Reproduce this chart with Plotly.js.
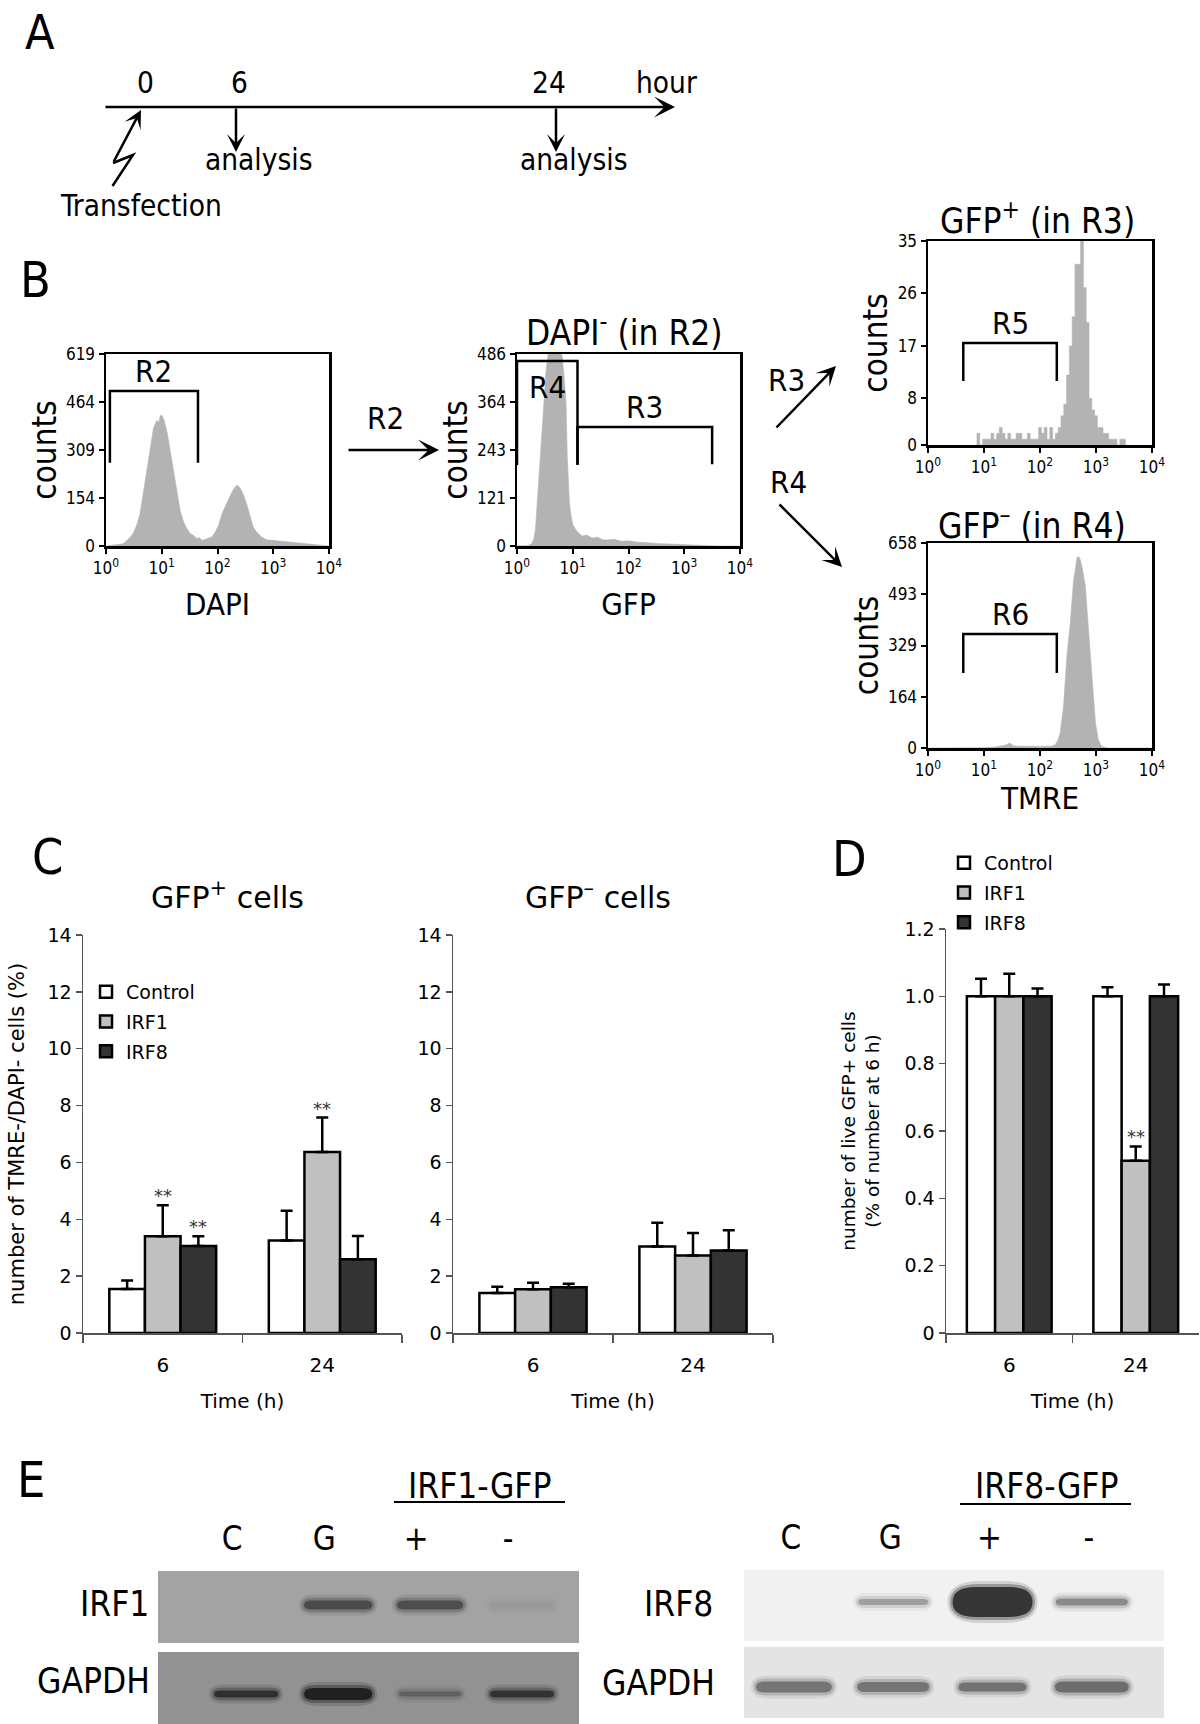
<!DOCTYPE html>
<html><head><meta charset="utf-8">
<script src="https://cdn.plot.ly/plotly-3.0.1.min.js"></script>
<style>html,body{margin:0;padding:0;background:#fff}#fig{width:1200px;height:1724px}</style>
</head><body><div id="fig"></div>
<script>
const W = 1200, H = 1724;
const px = x => x / W;
const py = y => 1 - y / H;
const FN = '"DejaVu Sans", Verdana, sans-serif';
const FC = '"DejaVu Sans Condensed", "DejaVu Sans", sans-serif';

// ---------- Panel B: flow histograms (log10 channel, counts) ----------
const dapiLog = [0,0.1,0.2,0.3,0.34,0.38,0.44,0.5,0.56,0.61,0.67,0.73,0.79,0.85,0.91,0.95,0.97,1.0,1.04,1.1,1.15,1.21,1.27,1.33,1.39,1.45,1.51,1.57,1.63,1.68,1.72,1.77,1.81,1.86,1.9,1.96,2.02,2.08,2.14,2.2,2.26,2.32,2.36,2.41,2.47,2.53,2.59,2.64,2.7,2.79,2.88,3.0,3.12,3.3,3.48,3.66,3.9,4.0];
const dapiCounts = [0,3,4,7,12,18,29,45,72,104,169,234,309,379,405,398,419,422,406,363,309,234,169,115,78,56,40,34,24,27,18,21,24,26,29,45,67,104,126,153,174,191,196,185,164,131,94,61,45,29,20,18,15,13,10,5,2,0];
const dapiYTicks = [0,154,309,464,619];

const gfpLog = [0,0.2,0.26,0.3,0.33,0.36,0.39,0.42,0.46,0.49,0.52,0.57,0.65,0.74,0.81,0.85,0.88,0.9,0.94,0.97,1.0,1.05,1.09,1.17,1.25,1.35,1.45,1.53,1.61,1.75,1.87,2.0,2.13,2.26,2.39,2.55,2.74,2.9,3.09,3.35,3.6,4.0];
const gfpCounts = [0,1,5,18,40,100,170,240,300,380,440,500,520,510,480,420,360,230,110,75,55,42,35,25,28,20,22,16,15,17,12,13,10,9,7,6,5,4,3,1,0,0];
const gfpYTicks = [0,121,243,364,486];

const tmrePosLog = [0.85,0.9,0.95,1.0,1.05,1.1,1.15,1.2,1.25,1.3,1.35,1.4,1.45,1.5,1.55,1.6,1.65,1.7,1.75,1.8,1.85,1.9,1.95,2.0,2.05,2.1,2.15,2.2,2.25,2.3,2.35,2.4,2.45,2.5,2.55,2.6,2.65,2.7,2.75,2.8,2.85,2.9,2.95,3.0,3.05,3.1,3.15,3.2,3.25,3.3,3.35,3.4,3.45,3.5,3.55];
const tmrePosCounts = [0,2,0,1,1,1,2,1,2,3,2,1,2,1,1,2,2,1,1,2,1,1,1,3,2,3,1,3,1,2,3,5,7,12,17,22,31,31,35,27,21,8,6,5,3,3,2,2,1,1,1,0,1,1,0];
const tmrePosYTicks = [0,8,17,26,35];

const tmreNegLog = [0,0.5,1.0,1.2,1.3,1.4,1.46,1.52,1.6,1.8,2.0,2.2,2.27,2.32,2.36,2.42,2.48,2.54,2.6,2.63,2.66,2.69,2.72,2.76,2.81,2.87,2.93,2.99,3.04,3.1,3.2,4.0];
const tmreNegCounts = [0,0,1,3,6,10,16,8,6,5,5,6,10,25,48,134,294,401,540,572,610,615,604,572,519,369,208,80,27,5,0,0];
const tmreNegYTicks = [0,164,329,493,658];

const histTickVals = [1,10,100,1000,10000];
const histTickText = ['10<sup>0</sup>','10<sup>1</sup>','10<sup>2</sup>','10<sup>3</sup>','10<sup>4</sup>'];

// gates
const gateNames = ['R2','R4','R3','R5','R6'];
const gateAxis = ['', '2', '2', '3', '4'];
const gateLoLog = [0.07, 0.0, 1.085, 0.63, 0.63];
const gateHiLog = [1.65, 1.085, 3.5, 2.30, 2.30];
const gateTop = [500, 468, 301, 17.5, 366];
const gateBottom = [268, 205, 207, 11.0, 241];
const gateLabelAbove = [true, false, true, true, true];

// ---------- Panel C / D ----------
const timeCats = ['6', '24'];
const groupNames = ['Control', 'IRF1', 'IRF8'];
const groupColors = ['#ffffff', '#c0c0c0', '#333333'];

const gfpPosControl = [1.55, 3.25];
const gfpPosControlErr = [0.30, 1.05];
const gfpPosIRF1 = [3.40, 6.37];
const gfpPosIRF1Err = [1.09, 1.21];
const gfpPosIRF8 = [3.06, 2.59];
const gfpPosIRF8Err = [0.34, 0.82];

const gfpNegControl = [1.41, 3.04];
const gfpNegControlErr = [0.22, 0.84];
const gfpNegIRF1 = [1.54, 2.73];
const gfpNegIRF1Err = [0.23, 0.79];
const gfpNegIRF8 = [1.61, 2.90];
const gfpNegIRF8Err = [0.12, 0.71];

const liveControl = [1.00, 1.00];
const liveControlErr = [0.052, 0.027];
const liveIRF1 = [1.00, 0.512];
const liveIRF1Err = [0.067, 0.042];
const liveIRF8 = [1.00, 1.00];
const liveIRF8Err = [0.023, 0.035];

const cYTicks = [0,2,4,6,8,10,12,14];
const dYTicks = [0,0.2,0.4,0.6,0.8,1.0,1.2];
const dYTickText = ['0','0.2','0.4','0.6','0.8','1.0','1.2'];

const sigGfpPosTime = ['6','6','24'];
const sigGfpPosGroup = ['IRF1','IRF8','IRF1'];
const sigLiveTime = ['24'];
const sigLiveGroup = ['IRF1'];

// ---------- Panel E: western blots (relative band signal per lane) ----------
const blotLanes = ['C','G','+','-'];
const irf1Signal = [0.00, 0.72, 0.68, 0.05];
const gapdhLeftSignal = [0.82, 1.00, 0.35, 0.78];
const irf8Signal = [0.00, 0.35, 1.00, 0.45];
const gapdhRightSignal = [0.62, 0.62, 0.64, 0.68];

// ================= build =================
const BAR_GAP = 0.33;
const traces = [];
const shapes = [];
const annotations = [];

function histTrace(logs, counts, ax, shape) {
  return {type:'scatter', mode:'lines', x: logs.map(v => Math.pow(10, v)), y: counts,
    xaxis:'x'+ax, yaxis:'y'+ax, fill:'tozeroy', fillcolor:'#b3b3b3',
    line:{color:'#b3b3b3', width:0.6, shape: shape || 'linear'}, showlegend:false, hoverinfo:'skip'};
}
traces.push(histTrace(dapiLog, dapiCounts, ''));
traces.push(histTrace(gfpLog, gfpCounts, '2'));
traces.push(histTrace(tmrePosLog, tmrePosCounts, '3', 'hvh'));
traces.push(histTrace(tmreNegLog, tmreNegCounts, '4'));

gateNames.forEach((g, i) => {
  const lo = Math.pow(10, gateLoLog[i]), hi = Math.pow(10, gateHiLog[i]);
  traces.push({type:'scatter', mode:'lines', x:[lo,lo,hi,hi], y:[gateBottom[i],gateTop[i],gateTop[i],gateBottom[i]],
    xaxis:'x'+gateAxis[i], yaxis:'y'+gateAxis[i], line:{color:'#000', width:2.5}, showlegend:false, hoverinfo:'skip'});
  annotations.push({text:g, xref:'x'+gateAxis[i], yref:'y'+gateAxis[i], x:(gateLoLog[i]+gateHiLog[i])/2, y:gateTop[i],
    showarrow:false, xanchor:'center', yanchor: gateLabelAbove[i] ? 'bottom' : 'top', yshift: gateLabelAbove[i] ? 0 : -6,
    font:{family:FC, size:31, color:'#000'}});
});

function barSet(means, errs, xa, ya, legendName, show) {
  return groupNames.map((g, i) => ({type:'bar', name:g, x:timeCats, y:means[i], xaxis:xa, yaxis:ya,
    marker:{color:groupColors[i], line:{color:'#000', width:2.5}},
    error_y:{type:'data', array:errs[i], arrayminus:[0,0], symmetric:false, color:'#000', thickness:2.5, width:6},
    showlegend:show, legend:legendName, legendgroup:legendName + g, hoverinfo:'skip'}));
}
const posMeans = [gfpPosControl, gfpPosIRF1, gfpPosIRF8], posErrs = [gfpPosControlErr, gfpPosIRF1Err, gfpPosIRF8Err];
const negMeans = [gfpNegControl, gfpNegIRF1, gfpNegIRF8], negErrs = [gfpNegControlErr, gfpNegIRF1Err, gfpNegIRF8Err];
const liveMeans = [liveControl, liveIRF1, liveIRF8], liveErrs = [liveControlErr, liveIRF1Err, liveIRF8Err];
traces.push(...barSet(posMeans, posErrs, 'x5', 'y5', 'legend', true));
traces.push(...barSet(negMeans, negErrs, 'x6', 'y6', 'legend', false));
traces.push(...barSet(liveMeans, liveErrs, 'x7', 'y7', 'legend2', true));

function sigMarks(times, groups, means, errs, xa, ya) {
  times.forEach((t, k) => {
    const ti = timeCats.indexOf(t), gi = groupNames.indexOf(groups[k]);
    const off = (gi - 1) * (1 - BAR_GAP) / 3;
    annotations.push({text:'**', xref:xa, yref:ya, x: ti + off, y: means[gi][ti] + errs[gi][ti],
      showarrow:false, xanchor:'center', yanchor:'bottom', yshift:-3, font:{family:FN, size:18, color:'#333'}});
  });
}
sigMarks(sigGfpPosTime, sigGfpPosGroup, posMeans, posErrs, 'x5', 'y5');
sigMarks(sigLiveTime, sigLiveGroup, liveMeans, liveErrs, 'x7', 'y7');

// blot helper traces (invisible) so blot axes exist
[['x8','y8'],['x9','y9']].forEach(([xa,ya]) => traces.push({type:'scatter', mode:'markers', x:[1,2,3,4], y:[1,1,1,1],
  xaxis:xa, yaxis:ya, marker:{opacity:0}, showlegend:false, hoverinfo:'skip'}));

function roundBand(xa, ya, cx, cy, hw, hh, rx, color) {
  const x0 = cx - hw, x1 = cx + hw, y0 = cy - hh, y1 = cy + hh;
  const path = `M${x0+rx},${y0} L${x1-rx},${y0} Q${x1},${y0} ${x1},${cy} Q${x1},${y1} ${x1-rx},${y1} L${x0+rx},${y1} Q${x0},${y1} ${x0},${cy} Q${x0},${y0} ${x0+rx},${y0} Z`;
  return {type:'path', xref:xa, yref:ya, path, fillcolor:color, line:{width:0}, layer:'above'};
}
const bandLayers = [{dx:5, dy:6, a:0.14}, {dx:2.5, dy:3, a:0.3}, {dx:0, dy:0, a:0.72}];
function bands(xa, ya, row, signal, hwPx, thickPx, lanePx, rowPx, rgb) {
  signal.forEach((a, i) => {
    if (a <= 0.01) return;
    bandLayers.forEach(L => {
      const hwp = hwPx[i] + L.dx, hhp = thickPx[i] / 2 + L.dy;
      const rxp = Math.min(hhp * 1.6, hwp);
      shapes.push(roundBand(xa, ya, i + 1, row, hwp / lanePx, hhp / rowPx, rxp / lanePx, `rgba(${rgb},${(a*L.a).toFixed(3)})`));
    });
  });
}
// blot backgrounds
shapes.push({type:'rect', xref:'paper', yref:'paper', x0:px(158), x1:px(579), y0:py(1643), y1:py(1571), fillcolor:'#a3a3a3', line:{width:0}, layer:'below'});
shapes.push({type:'rect', xref:'paper', yref:'paper', x0:px(158), x1:px(579), y0:py(1724), y1:py(1652), fillcolor:'#929292', line:{width:0}, layer:'below'});
shapes.push({type:'rect', xref:'paper', yref:'paper', x0:px(744), x1:px(1164), y0:py(1641), y1:py(1570), fillcolor:'#f1f1f1', line:{width:0}, layer:'below'});
shapes.push({type:'rect', xref:'paper', yref:'paper', x0:px(744), x1:px(1164), y0:py(1718), y1:py(1647), fillcolor:'#e4e4e4', line:{width:0}, layer:'below'});
bands('x8','y8', 1, irf1Signal, [33,34,33,32], [8,9,9,8], 91.7, 89, '30,30,30');
bands('x8','y8', 2, gapdhLeftSignal, [32,34,31,32], [7,12,5,7], 91.7, 89, '10,10,10');
bands('x9','y9', 1, irf8Signal, [34,35,40,36], [6,6,30,7], 99.3, 85, '15,15,15');
bands('x9','y9', 2, gapdhRightSignal, [38,36,34,37], [11,10,9,11], 99.3, 85, '40,40,40');

// ---------- text, arrows ----------
function txt(t, x, y, size, family, extra) {
  return Object.assign({text:t, x:px(x), y:py(y), xref:'paper', yref:'paper', showarrow:false,
    xanchor:'center', yanchor:'middle', font:{family: family || FC, size, color:'#000'}}, extra || {});
}
function arrow(x0, y0, x1, y1, size, head) {
  return {text:'', x:px(x1), y:py(y1), xref:'paper', yref:'paper', ax:x0 - x1, ay:y0 - y1,
    axref:'pixel', ayref:'pixel', showarrow:true, arrowhead: head || 3, arrowsize:size, arrowwidth:2.5, arrowcolor:'#000', standoff:0, startstandoff:0};
}
// panel letters
annotations.push(txt('A', 40, 32, 48), txt('B', 35, 280, 50), txt('C', 47, 857, 50), txt('D', 849, 859, 50), txt('E', 31, 1480, 50));
// panel A
annotations.push(txt('0', 145, 83, 29.5), txt('6', 239, 83, 29.5), txt('24', 549, 83, 29.5), txt('hour', 666, 83, 29.5));
annotations.push(txt('analysis', 258, 160, 29.5), txt('analysis', 573, 160, 29.5), txt('Transfection', 141, 206, 29.5));
annotations.push(arrow(104, 107, 675, 107, 1.4));
annotations.push(arrow(236, 107, 236, 152, 1.2));
annotations.push(arrow(556, 107, 556, 152, 1.2));
shapes.push({type:'path', xref:'paper', yref:'paper', path:`M${px(112.5)},${py(186)} L${px(133)},${py(155)} L${px(113)},${py(163)}`, line:{color:'#000', width:2.5}});
annotations.push(arrow(113, 163, 141, 110, 1.2));
// panel B
annotations.push(txt('DAPI<sup>-</sup> (in R2)', 624, 330, 35), txt('GFP<sup>+</sup> (in R3)', 1037, 218, 35), txt('GFP<sup>\u2013</sup> (in R4)', 1032, 523, 35));
annotations.push(arrow(347, 450, 439, 450, 1.4), txt('R2', 385, 418, 31));
annotations.push(arrow(775, 429, 836, 366, 1.3), txt('R3', 786, 380, 31));
annotations.push(arrow(778, 503, 842, 567, 1.3), txt('R4', 788, 482, 31));
// panel C titles
annotations.push(txt('GFP<sup>+</sup> cells', 227, 895, 30, FN), txt('GFP<sup>\u2013</sup> cells', 598, 895, 30, FN));
// panel E headings, row labels
annotations.push(txt('IRF1-GFP', 479, 1486, 35), txt('IRF8-GFP', 1046, 1486, 35));
annotations.push(txt('IRF1', 151, 1604, 35, FC, {xanchor:'right'}), txt('GAPDH', 152, 1681, 35, FC, {xanchor:'right'}));
annotations.push(txt('IRF8', 715, 1604, 35, FC, {xanchor:'right'}), txt('GAPDH', 717, 1683, 35, FC, {xanchor:'right'}));
shapes.push({type:'line', xref:'paper', yref:'paper', x0:px(394), x1:px(565), y0:py(1502), y1:py(1502), line:{color:'#000', width:2}});
shapes.push({type:'line', xref:'paper', yref:'paper', x0:px(960), x1:px(1131), y0:py(1504), y1:py(1504), line:{color:'#000', width:2}});

// ---------- axes ----------
function hx(x0, x1, anchor, title, standoff) {
  const a = {domain:[px(x0), px(x1)], anchor, type:'log', range:[0,4], tickmode:'array', tickvals:histTickVals, ticktext:histTickText,
    ticks:'outside', ticklen:5, tickwidth:2, tickcolor:'#000', showline:true, linecolor:'#000', linewidth:2.5, mirror:true,
    showgrid:false, zeroline:false, tickfont:{family:FC, size:17, color:'#000'}, fixedrange:true};
  if (title) a.title = {text:title, font:{family:FC, size:31, color:'#000'}, standoff};
  return a;
}
function hy(yTop, yBot, anchor, vals) {
  return {domain:[py(yBot), py(yTop)], anchor, range:[0, vals[vals.length-1]], tickmode:'array', tickvals:vals,
    ticks:'outside', ticklen:5, tickwidth:2, tickcolor:'#000', showline:true, linecolor:'#000', linewidth:2.5, mirror:true,
    showgrid:false, zeroline:false, tickfont:{family:FC, size:17, color:'#000'}, fixedrange:true,
    title:{text:'counts', font:{family:FC, size:33, color:'#000'}, standoff:0}};
}
function bx(x0, x1, anchor) {
  return {domain:[px(x0), px(x1)], anchor, type:'category', categoryorder:'array', categoryarray:timeCats, range:[-0.5,1.5],
    showline:true, linecolor:'#555', linewidth:1.5, ticks:'outside', tickson:'boundaries', ticklen:8, tickwidth:1.5, tickcolor:'#555',
    showgrid:false, zeroline:false, tickfont:{family:FN, size:20, color:'#000'}, ticklabelstandoff:13,
    title:{text:'Time (h)', font:{family:FN, size:20, color:'#000'}, standoff:18}, fixedrange:true};
}
function byax(yTop, anchor, vals, text, title, size, standoff) {
  const a = {domain:[py(1333), py(yTop)], anchor, range:[0, vals[vals.length-1]], tickmode:'array', tickvals:vals,
    showline:true, linecolor:'#555', linewidth:1.5, ticks:'outside', ticklen:6, tickwidth:1.5, tickcolor:'#555',
    showgrid:false, zeroline:false, tickfont:{family:FN, size:19, color:'#000'}, fixedrange:true};
  if (text) a.ticktext = text;
  if (title) a.title = {text:title, font:{family:FN, size, color:'#000'}, standoff};
  return a;
}

const legendBase = {xanchor:'left', yanchor:'top', bgcolor:'rgba(0,0,0,0)', font:{family:FN, size:19, color:'#000'}, itemwidth:30, tracegroupgap:2, traceorder:'grouped'};
const layout = {
  width: W, height: H, margin:{l:0, r:0, t:0, b:0}, paper_bgcolor:'#ffffff', plot_bgcolor:'rgba(0,0,0,0)',
  showlegend:true, barmode:'group', bargap:BAR_GAP, bargroupgap:0,
  font:{family:FN, color:'#000'},
  xaxis: hx(106, 329, 'y', 'DAPI', 17), yaxis: hy(354, 546, 'x', dapiYTicks),
  xaxis2: hx(517, 740, 'y2', 'GFP', 17), yaxis2: hy(354, 546, 'x2', gfpYTicks),
  xaxis3: hx(928, 1152, 'y3', null), yaxis3: hy(241, 445, 'x3', tmrePosYTicks),
  xaxis4: hx(928, 1152, 'y4', 'TMRE', 9), yaxis4: hy(543, 748, 'x4', tmreNegYTicks),
  xaxis5: bx(83, 402, 'y5'), yaxis5: byax(935, 'x5', cYTicks, null, 'number of TMRE-/DAPI- cells (%)', 21, 17),
  xaxis6: bx(453, 773, 'y6'), yaxis6: byax(935, 'x6', cYTicks, null, null),
  xaxis7: bx(946, 1199, 'y7'), yaxis7: byax(929, 'x7', dYTicks, dYTickText, 'number of live GFP+ cells<br>(% of number at 6 h)', 18.5, 20),
  xaxis8: {domain:[px(158), px(579)], anchor:'y8', range:[0.04, 4.62], side:'top', tickmode:'array', tickvals:[1,2,3,4], ticktext:blotLanes,
    showline:false, showgrid:false, zeroline:false, ticks:'', tickfont:{family:FC, size:33, color:'#000'}, ticklabelstandoff:13, ticklabelshift:-14, fixedrange:true},
  yaxis8: {domain:[0, py(1571)], anchor:'x8', range:[2.337, 0.618], showticklabels:false,
    showline:false, showgrid:false, zeroline:false, ticks:'', fixedrange:true},
  xaxis9: {domain:[px(744), px(1164)], anchor:'y9', range:[0.497, 4.727], side:'top', tickmode:'array', tickvals:[1,2,3,4], ticktext:blotLanes,
    showline:false, showgrid:false, zeroline:false, ticks:'', tickfont:{family:FC, size:33, color:'#000'}, ticklabelstandoff:13, ticklabelshift:-3, fixedrange:true},
  yaxis9: {domain:[py(1718), py(1570)], anchor:'x9', range:[2.365, 0.624], showticklabels:false,
    showline:false, showgrid:false, zeroline:false, ticks:'', fixedrange:true},
  legend: Object.assign({x:px(86), y:py(973)}, legendBase),
  legend2: Object.assign({x:px(944), y:py(844)}, legendBase),
  shapes, annotations
};

Plotly.newPlot('fig', traces, layout, {displayModeBar:false, staticPlot:true});
</script></body></html>
